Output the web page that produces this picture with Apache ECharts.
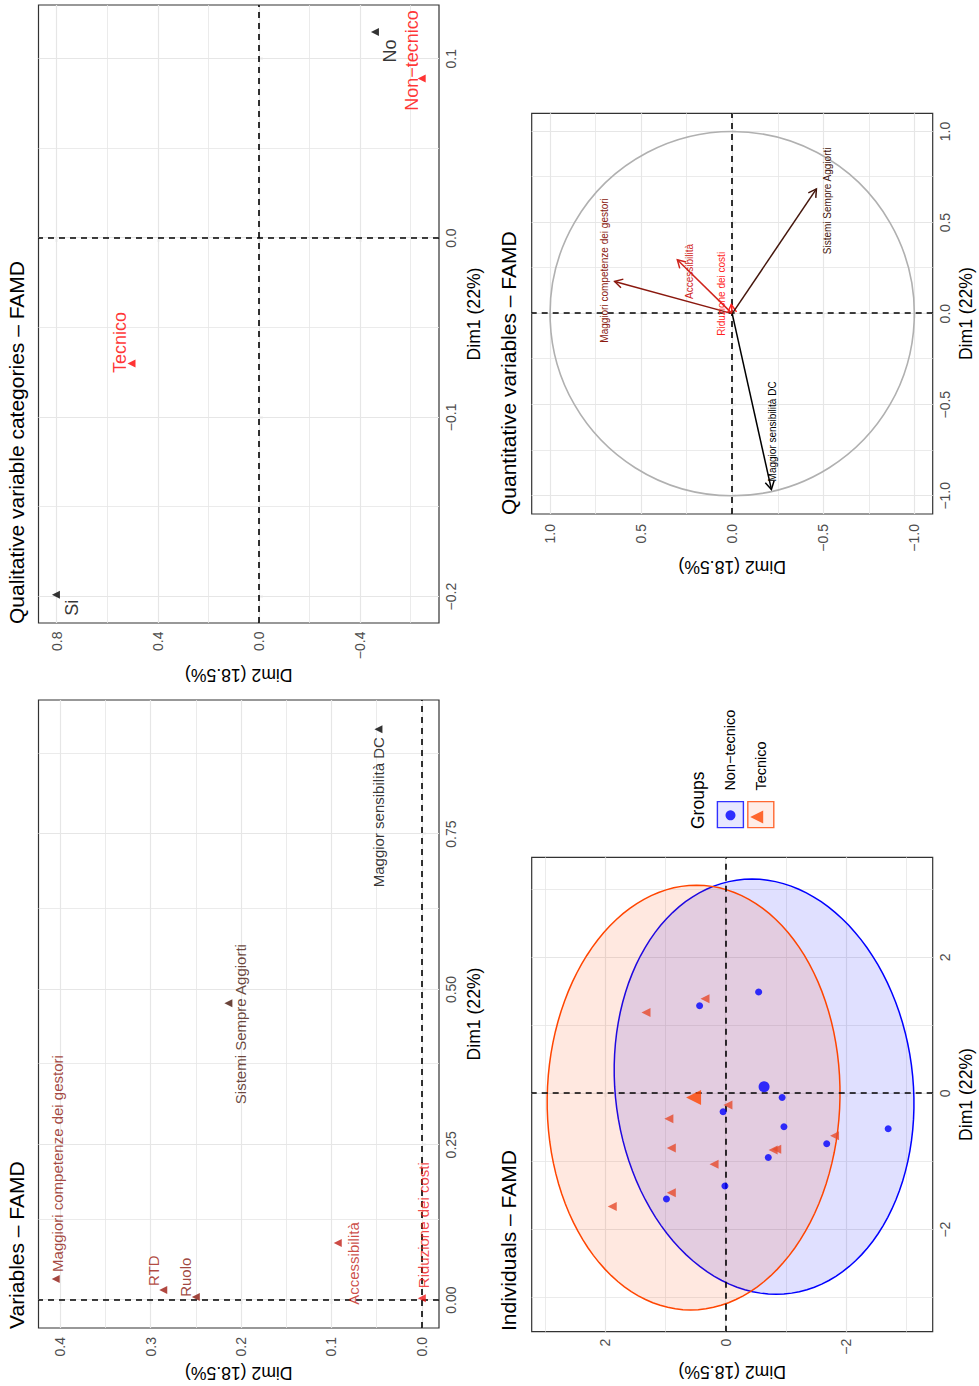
<!DOCTYPE html>
<html><head><meta charset="utf-8">
<script src="https://cdn.jsdelivr.net/npm/echarts@6/dist/echarts.min.js"></script>
<style>
html,body{margin:0;padding:0;background:#fff;overflow:hidden;}
#wrap{position:absolute;left:0;top:0;width:979px;height:1386px;overflow:hidden;background:#fff;}
#chart{position:absolute;left:0;top:0;width:1386px;height:979px;transform-origin:0 0;transform:translateY(1386px) rotate(-90deg);}
</style></head><body><div id="wrap"><div id="chart"></div></div>
<script>
// ---------------- DATA ----------------
// Variables – FAMD (squared correlations / contributions on Dim1, Dim2)
const varNames = ['Maggiori competenze dei gestori','RTD','Ruolo','Accessibilità','Riduzione dei costi','Sistemi Sempre Aggiorti','Maggior sensibilità DC'];
const varDim1 = [0.034, 0.016, 0.005, 0.092, 0.003, 0.478, 0.919];
const varDim2 = [0.405, 0.286, 0.250, 0.093, 0.000, 0.214, 0.048];
const varDim1Ticks = [0, 0.25, 0.5, 0.75];
const varDim2Ticks = [0, 0.1, 0.2, 0.3, 0.4];
const varDim1Minor = [0.125, 0.375, 0.625, 0.875];
const varDim2Minor = [0.05, 0.15, 0.25, 0.35];

// Qualitative variable categories – FAMD
const catNames = ['Si', 'Tecnico', 'No', 'Non−tecnico'];
const catDim1 = [-0.199, -0.070, 0.115, 0.089];
const catDim2 = [0.803, 0.504, -0.459, -0.644];
const catDim1Ticks = [-0.2, -0.1, 0, 0.1];
const catDim2Ticks = [-0.4, 0, 0.4, 0.8];
const catDim1Minor = [-0.15, -0.05, 0.05];
const catDim2Minor = [-0.6, -0.2, 0.2, 0.6];

// Quantitative variables – FAMD (correlation circle)
const quantNames = ['Maggiori competenze dei gestori','Accessibilità','Riduzione dei costi','Sistemi Sempre Aggiorti','Maggior sensibilità DC'];
const quantDim1 = [0.177, 0.296, 0.050, 0.685, -0.965];
const quantDim2 = [0.645, 0.301, 0.005, -0.462, -0.215];
const quantTicks = [-1, -0.5, 0, 0.5, 1];
const quantMinor = [-0.75, -0.25, 0.25, 0.75];
const corCircleRadius = 1;

// Individuals – FAMD
const groupNames = ['Non−tecnico', 'Tecnico'];
const nonTecDim1 = [1.49, 1.29, -0.06, -0.27, -0.49, -0.52, -0.74, -0.94, -1.36, -1.55];
const nonTecDim2 = [-0.55, 0.43, -0.94, 0.04, -0.97, -2.70, -1.68, -0.71, 0.01, 0.98];
const tecDim1 = [1.39, 1.19, -0.17, -0.37, -0.62, -0.80, -0.83, -0.82, -1.04, -1.46, -1.66];
const tecDim2 = [0.34, 1.32, -0.04, 0.94, -1.81, 0.90, -0.79, -0.85, 0.19, 0.90, 1.88];
const groupCentroidDim1 = [0.10, -0.06];
const groupCentroidDim2 = [-0.64, 0.53];
const ellipseDim1Semi = [3.05, 3.12];
const ellipseDim2Semi = [2.48, 2.43];
const ellipseShear = [0.20, -0.05];
const indTicks = [-2, 0, 2];
const indMinor = [-3, -1, 1, 3];

// ---------------- STYLE ----------------
const FONT = '"Liberation Sans", Arial, Helvetica, sans-serif';
const varColors = ['#8E170E','#9E1A10','#88160C','#C01E16','#F01818','#461509','#000000'];
const varLabelPlace = [['left',7,1.5],['center',19.5,-10],['center',19.7,-10.5],['center',-20.6,16.2],['left',10,1.5],['center',-21,12.5],['right',-8,0.5]];
const catColors = ['#000000','#FF0000','#000000','#FF0000'];
const catLabelPlace = [['center',-13,16.5],['center',21,-12],['center',-19,15.3],['center',18,-9.2]];
const quantColors = ['#8A180E','#D0241C','#FF1E1E','#45160C','#000000'];
const quantLabelPlace = [['center',11,-10],['center',-11.7,12],['center',10.7,-10],['center',-12,11],['left',8,0.7]];
const groupColors = ['#0000FF', '#FF4500'];
const groupFills = ['rgba(0,0,255,0.12)', 'rgba(255,69,0,0.12)'];
const GRID_COL = '#E6E6E6';

function fmtNum(v, d) { return (d === null ? String(v) : v.toFixed(d)).replace('-', '−'); }

function valAxis(gi, min, max, ticks, dec, nameGap, margin, isY) {
  return {
    gridIndex: gi, type: 'value', min: min, max: max,
    name: isY ? 'Dim2 (18.5%)' : 'Dim1 (22%)', nameLocation: 'middle', nameGap: nameGap,
    nameTextStyle: { fontSize: 17.6, color: '#000', fontFamily: FONT },
    axisLine: { show: false },
    axisTick: { show: true, length: 4, lineStyle: { color: '#333', width: 1.1 }, customValues: ticks },
    axisLabel: { customValues: ticks, formatter: v => fmtNum(v, dec), color: '#4D4D4D', fontSize: 14, fontFamily: FONT, margin: margin },
    splitLine: { show: false }, minorTick: { show: false }, minorSplitLine: { show: false }
  };
}

function gridLines(gi, xMaj, xMin, yMaj, yMin) {
  const maj = { color: GRID_COL, width: 1.2, type: 'solid' };
  const mnr = { color: GRID_COL, width: 0.8, type: 'solid' };
  return {
    type: 'scatter', xAxisIndex: gi, yAxisIndex: gi, data: [], silent: true, z: 1,
    markLine: {
      z: 1, silent: true, symbol: ['none', 'none'], label: { show: false }, animation: false,
      emphasis: { disabled: true },
      data: [].concat(
        xMaj.map(v => ({ xAxis: v, lineStyle: maj })), xMin.map(v => ({ xAxis: v, lineStyle: mnr })),
        yMaj.map(v => ({ yAxis: v, lineStyle: maj })), yMin.map(v => ({ yAxis: v, lineStyle: mnr })))
    }
  };
}

function zeroLines(gi) {
  return {
    type: 'scatter', xAxisIndex: gi, yAxisIndex: gi, data: [], silent: true, z: 3,
    markLine: {
      z: 3, silent: true, symbol: ['none', 'none'], label: { show: false }, animation: false,
      emphasis: { disabled: true },
      lineStyle: { color: '#000', width: 1.6, type: [6, 5] },
      data: [{ xAxis: 0 }, { yAxis: 0 }]
    }
  };
}

function labelledScatter(gi, names, d1, d2, colors, places, fontSize) {
  return {
    type: 'scatter', xAxisIndex: gi, yAxisIndex: gi, z: 4, symbol: 'triangle', symbolSize: 8,
    emphasis: { disabled: true }, silent: true,
    data: names.map((n, i) => ({
      name: n, value: [d1[i], d2[i]],
      itemStyle: { color: colors[i] },
      label: { show: true, position: 'inside', formatter: n, align: places[i][0], verticalAlign: 'middle',
        offset: [places[i][1], places[i][2]], color: colors[i], fontSize: fontSize, fontFamily: FONT }
    }))
  };
}

const titleStyle = { fontSize: 21, fontWeight: 'normal', color: '#000', fontFamily: FONT };

const option = {
  animation: false,
  backgroundColor: '#fff',
  textStyle: { fontFamily: FONT },
  title: [
    { text: 'Variables – FAMD', left: 57, top: 6, padding: 0, textStyle: titleStyle },
    { text: 'Qualitative variable categories – FAMD', left: 762, top: 6, padding: 0, textStyle: titleStyle },
    { text: 'Individuals – FAMD', left: 55, top: 498, padding: 0, textStyle: titleStyle },
    { text: 'Quantitative variables – FAMD', left: 871, top: 498, padding: 0, textStyle: titleStyle },
    { text: 'Groups', left: 557, top: 689, padding: 0, textStyle: { fontSize: 17.5, fontWeight: 'normal', color: '#000', fontFamily: FONT } }
  ],
  grid: [
    { left: 58, top: 38.5, width: 628, height: 400.5 },
    { left: 763, top: 38.5, width: 618, height: 400.5 },
    { left: 54.3, top: 531.7, width: 474.4, height: 401 },
    { left: 872, top: 531.7, width: 400.7, height: 401 }
  ].map(g => Object.assign(g, { show: true, backgroundColor: '#fff', borderColor: '#333', borderWidth: 1.2, containLabel: false })),
  xAxis: [
    valAxis(0, -0.045, 0.966, varDim1Ticks, 2, 26, 5, false),
    valAxis(1, -0.2147, 0.130, catDim1Ticks, 1, 26, 5, false),
    valAxis(2, -3.50, 3.47, indTicks, null, 24, 5, false),
    valAxis(3, -1.1, 1.1, quantTicks, 1, 24, 5, false)
  ],
  yAxis: [
    valAxis(0, -0.019, 0.424, varDim2Ticks, 1, 36, 9, true),
    valAxis(1, -0.7125, 0.872, catDim2Ticks, 1, 43, 8.5, true),
    valAxis(2, -3.439, 3.217, indTicks, null, 31, 7, true),
    valAxis(3, -1.1, 1.1, quantTicks, 1, 43.5, 10, true)
  ],
  legend: [
    { left: 557.7, top: 716.7, orient: 'vertical', padding: 0, itemWidth: 26, itemHeight: 26, itemGap: 3,
      icon: 'rect', selectedMode: false,
      textStyle: { fontSize: 14.5, color: '#000', fontFamily: FONT, padding: [0, 0, 0, 6] },
      data: groupNames.map((n, i) => ({ name: n, itemStyle: { color: groupFills[i], borderColor: groupColors[i], borderWidth: 1.4 } })) },
    { left: 565.7, top: 725.5, orient: 'vertical', padding: 0, itemWidth: 10, itemHeight: 10, selectedMode: false,
      formatter: () => '', textStyle: { fontSize: 1 },
      data: [{ name: groupNames[0], icon: 'circle', itemStyle: { color: groupColors[0], borderWidth: 0 } }] },
    { left: 562.5, top: 750.2, orient: 'vertical', padding: 0, itemWidth: 13, itemHeight: 13, selectedMode: false,
      formatter: () => '', textStyle: { fontSize: 1 },
      data: [{ name: groupNames[1], icon: 'triangle', itemStyle: { color: groupColors[1], borderWidth: 0 } }] }
  ],
  series: [
    // panel 1: Variables
    gridLines(0, varDim1Ticks, varDim1Minor, varDim2Ticks, varDim2Minor),
    zeroLines(0),
    labelledScatter(0, varNames, varDim1, varDim2, varColors, varLabelPlace, 15),
    // panel 2: Qualitative categories
    gridLines(1, catDim1Ticks, catDim1Minor, catDim2Ticks, catDim2Minor),
    zeroLines(1),
    labelledScatter(1, catNames, catDim1, catDim2, catColors, catLabelPlace, 18),
    // panel 3: Individuals
    gridLines(2, indTicks, indMinor, indTicks, indMinor),
    {
      type: 'custom', xAxisIndex: 2, yAxisIndex: 2, z: 2, silent: true, name: 'ellipses',
      data: groupNames.map((n, i) => [groupCentroidDim1[i], groupCentroidDim2[i], ellipseDim1Semi[i], ellipseDim2Semi[i], ellipseShear[i]]),
      renderItem: function (params, api) {
        const c1 = api.value(0), c2 = api.value(1), A = api.value(2), B = api.value(3), k = api.value(4);
        const pts = [];
        for (let j = 0; j < 120; j++) {
          const t = j / 120 * 2 * Math.PI;
          pts.push(api.coord([c1 + A * Math.cos(t), c2 + B * Math.sin(t) + k * Math.cos(t)]));
        }
        const i = params.dataIndex;
        return { type: 'polygon', shape: { points: pts }, style: { fill: groupFills[i], stroke: groupColors[i], lineWidth: 1.5 } };
      }
    },
    zeroLines(2),
    { type: 'scatter', name: groupNames[0], xAxisIndex: 2, yAxisIndex: 2, z: 4, symbol: 'circle', symbolSize: 7, silent: true,
      itemStyle: { color: groupColors[0] }, data: nonTecDim1.map((d, i) => [d, nonTecDim2[i]]) },
    { type: 'scatter', name: groupNames[1], xAxisIndex: 2, yAxisIndex: 2, z: 4, symbol: 'triangle', symbolSize: 9, silent: true,
      itemStyle: { color: '#E64A2A' }, data: tecDim1.map((d, i) => [d, tecDim2[i]]) },
    { type: 'scatter', name: groupNames[0], xAxisIndex: 2, yAxisIndex: 2, z: 5, symbol: 'circle', symbolSize: 11, silent: true,
      itemStyle: { color: groupColors[0] }, data: [[groupCentroidDim1[0], groupCentroidDim2[0]]] },
    { type: 'scatter', name: groupNames[1], xAxisIndex: 2, yAxisIndex: 2, z: 5, symbol: 'triangle', symbolSize: 15, silent: true,
      itemStyle: { color: groupColors[1] }, data: [[groupCentroidDim1[1], groupCentroidDim2[1]]] },
    // panel 4: Quantitative variables
    gridLines(3, quantTicks, quantMinor, quantTicks, quantMinor),
    {
      type: 'custom', xAxisIndex: 3, yAxisIndex: 3, z: 2, silent: true,
      data: [[0, 0]],
      renderItem: function (params, api) {
        const c = api.coord([api.value(0), api.value(1)]);
        const r = api.size([corCircleRadius, 0])[0];
        return { type: 'circle', shape: { cx: c[0], cy: c[1], r: r }, style: { fill: 'none', stroke: '#B0B0B0', lineWidth: 1.6 } };
      }
    },
    zeroLines(3),
    {
      type: 'custom', xAxisIndex: 3, yAxisIndex: 3, z: 4, silent: true,
      data: quantDim1.map((d, i) => [d, quantDim2[i]]),
      renderItem: function (params, api) {
        const i = params.dataIndex;
        const o = api.coord([0, 0]);
        const p = api.coord([api.value(0), api.value(1)]);
        const ang = Math.atan2(p[1] - o[1], p[0] - o[0]);
        const h = 9, a = Math.PI / 6;
        const l1 = [p[0] - h * Math.cos(ang - a), p[1] - h * Math.sin(ang - a)];
        const l2 = [p[0] - h * Math.cos(ang + a), p[1] - h * Math.sin(ang + a)];
        const pl = quantLabelPlace[i];
        const col = quantColors[i];
        return { type: 'group', children: [
          { type: 'line', shape: { x1: o[0], y1: o[1], x2: p[0], y2: p[1] }, style: { stroke: col, lineWidth: 1.5 } },
          { type: 'polyline', shape: { points: [l1, p, l2] }, style: { stroke: col, fill: 'none', lineWidth: 1.5 } },
          { type: 'text', x: p[0] + pl[1], y: p[1] + pl[2], style: { text: quantNames[i], fill: col, fontSize: 10, fontFamily: FONT, align: pl[0], verticalAlign: 'middle' } }
        ] };
      }
    }
  ]
};

const chart = echarts.init(document.getElementById('chart'), null, { renderer: 'svg', width: 1386, height: 979 });
chart.setOption(option);
</script></body></html>
